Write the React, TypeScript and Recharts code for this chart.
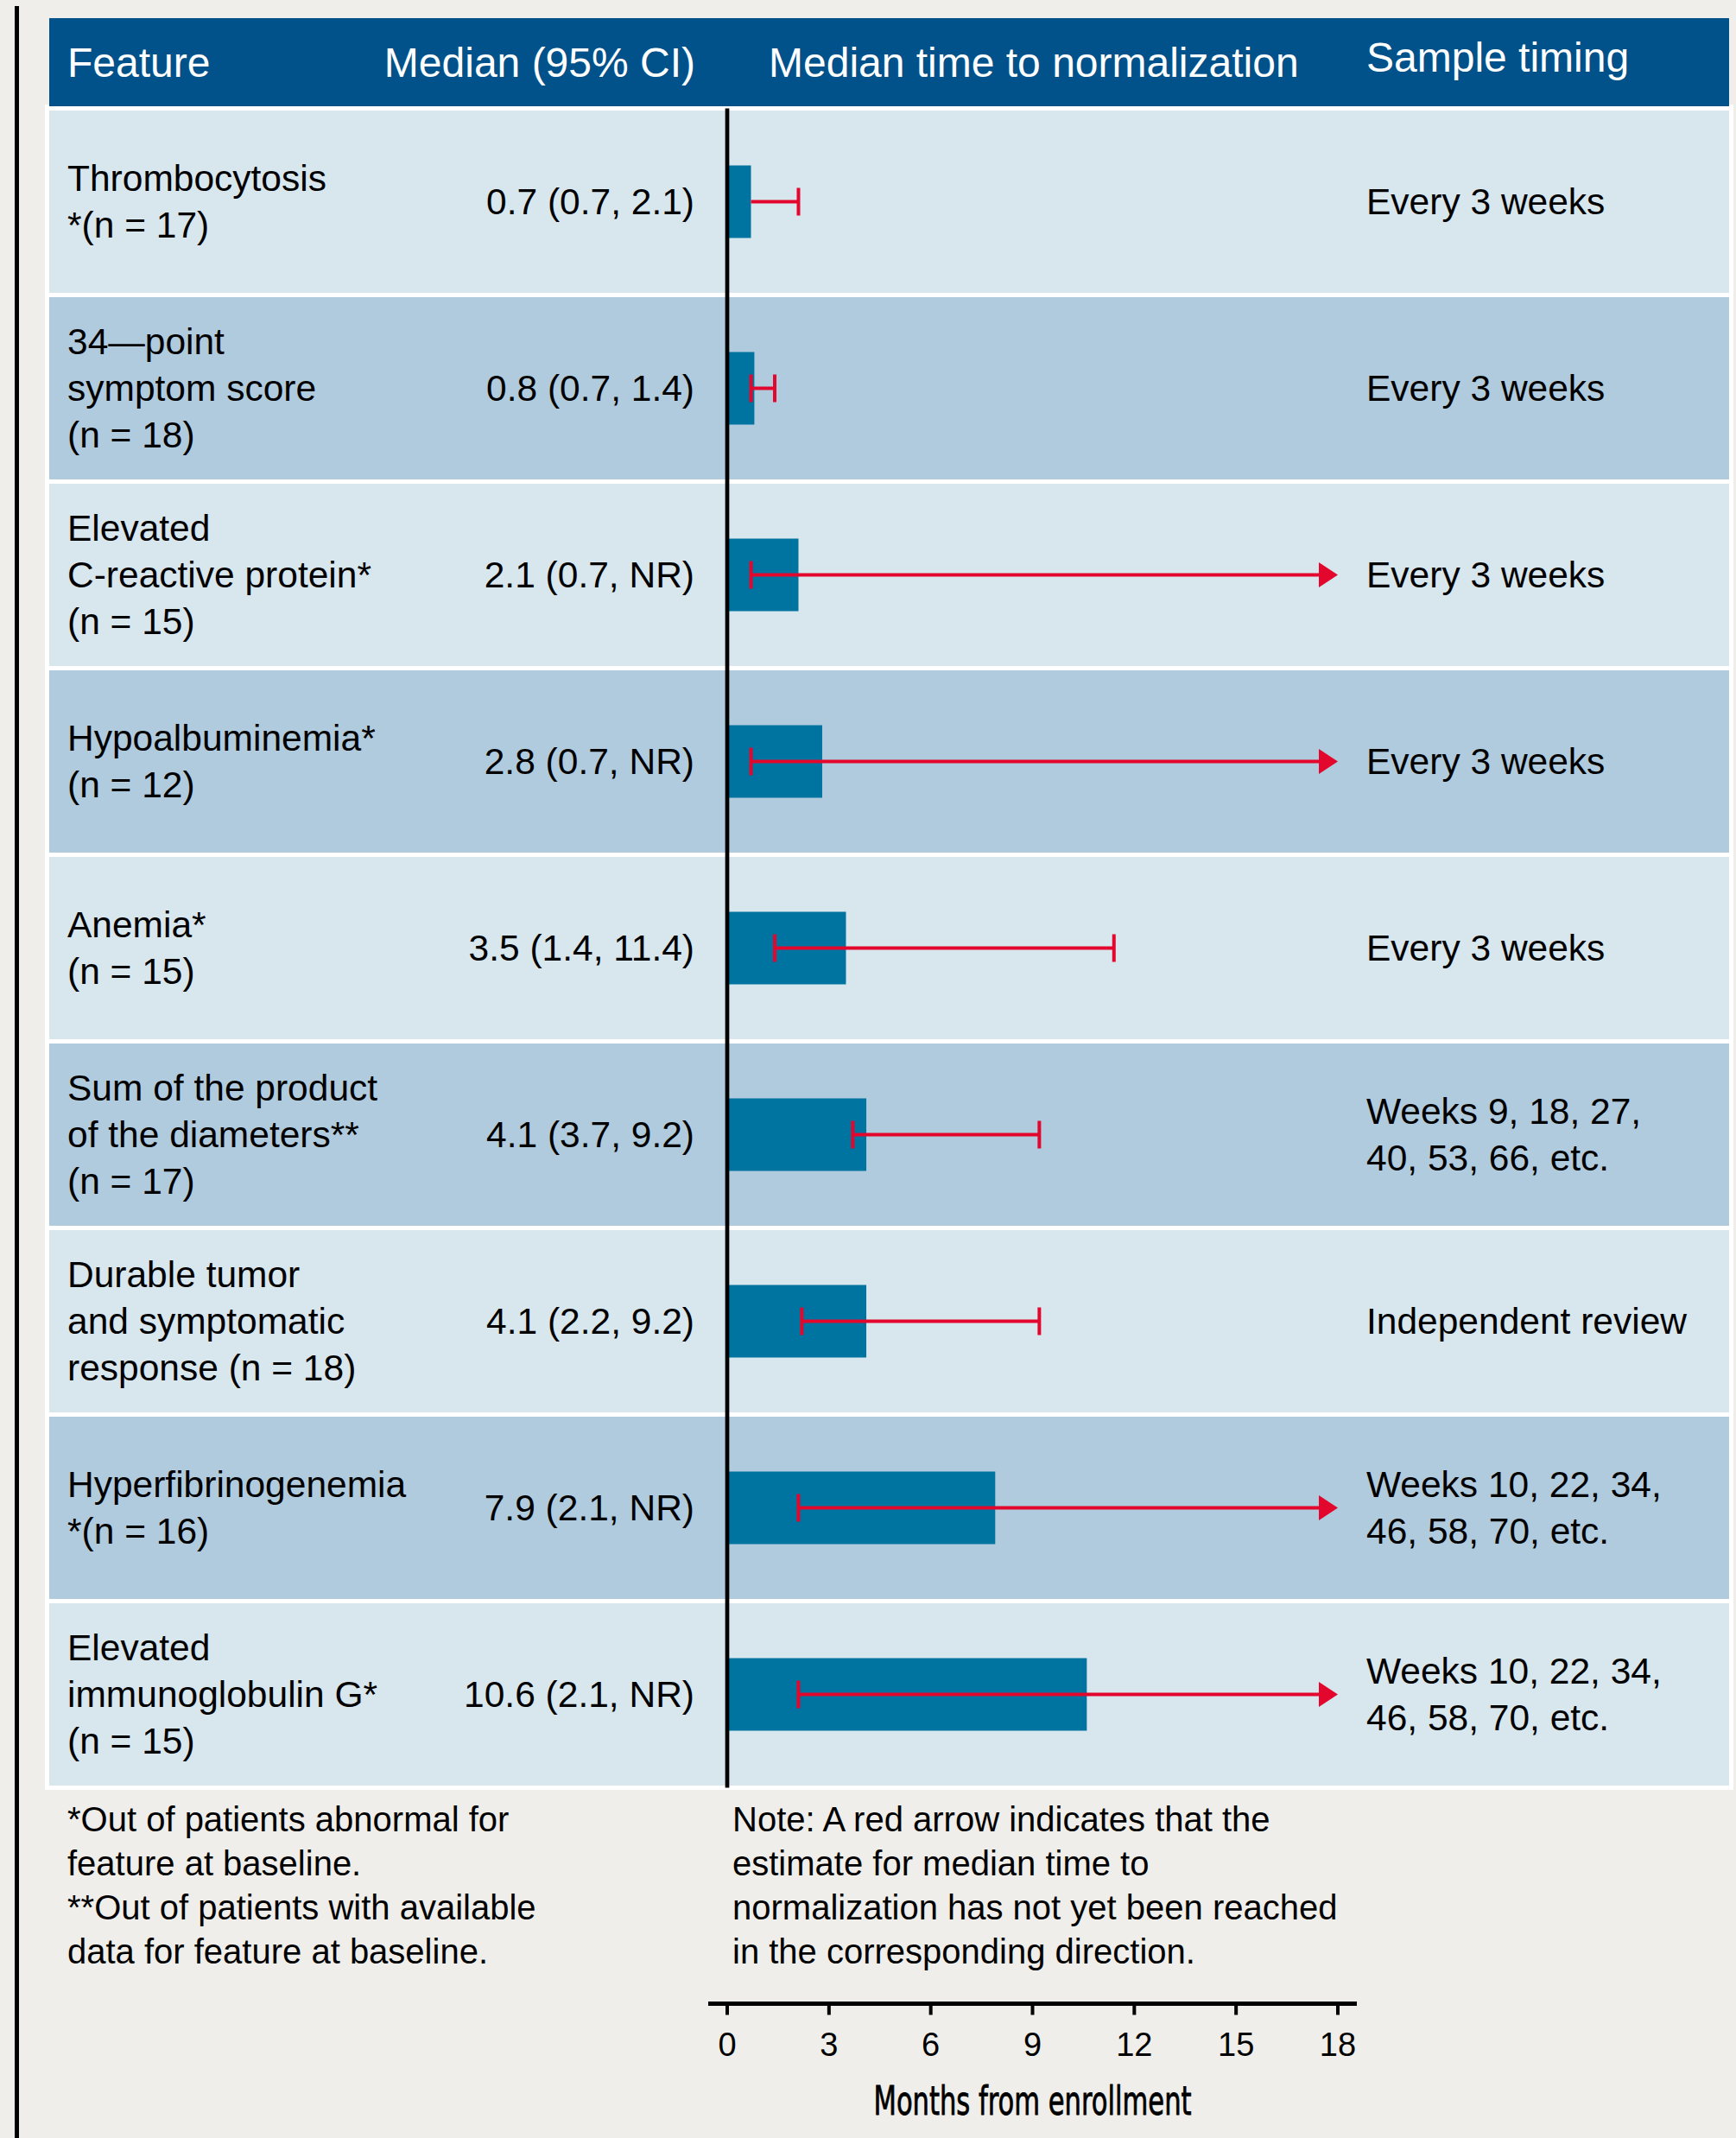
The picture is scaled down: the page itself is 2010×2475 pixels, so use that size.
import React from 'react';
import { ComposedChart, Bar, XAxis, YAxis, ReferenceLine, Label } from 'recharts';

// ---- data ----
const featureLabels: string[][] = [
  ['Thrombocytosis', '*(n = 17)'],
  ['34—point', 'symptom score', '(n = 18)'],
  ['Elevated', 'C-reactive protein*', '(n = 15)'],
  ['Hypoalbuminemia*', '(n = 12)'],
  ['Anemia*', '(n = 15)'],
  ['Sum of the product', 'of the diameters**', '(n = 17)'],
  ['Durable tumor', 'and symptomatic', 'response (n = 18)'],
  ['Hyperfibrinogenemia', '*(n = 16)'],
  ['Elevated', 'immunoglobulin G*', '(n = 15)'],
];

// median months to normalization
const medians = [0.7, 0.8, 2.1, 2.8, 3.5, 4.1, 4.1, 7.9, 10.6];
// 95% CI bounds; null upper bound = not reached (NR)
const ciLower = [0.7, 0.7, 0.7, 0.7, 1.4, 3.7, 2.2, 2.1, 2.1];
const ciUpper: (number | null)[] = [2.1, 1.4, null, null, 11.4, 9.2, 9.2, null, null];

const sampleTiming: string[][] = [
  ['Every 3 weeks'],
  ['Every 3 weeks'],
  ['Every 3 weeks'],
  ['Every 3 weeks'],
  ['Every 3 weeks'],
  ['Weeks 9, 18, 27,', '40, 53, 66, etc.'],
  ['Independent review'],
  ['Weeks 10, 22, 34,', '46, 58, 70, etc.'],
  ['Weeks 10, 22, 34,', '46, 58, 70, etc.'],
];

const monthTicks = [0, 3, 6, 9, 12, 15, 18];
const MONTH_MAX = 18;

const footnoteLeft = [
  '*Out of patients abnormal for',
  'feature at baseline.',
  '**Out of patients with available',
  'data for feature at baseline.',
];
const footnoteRight = [
  'Note: A red arrow indicates that the',
  'estimate for median time to',
  'normalization has not yet been reached',
  'in the corresponding direction.',
];

// ---- styles ----
const FONT = '"Liberation Sans", Arial, Helvetica, sans-serif';
const PAPER = '#efeeea';
const HEADER_BLUE = '#01518a';
const ROW_LIGHT = '#d8e6ee';
const ROW_DARK = '#b0cbdd';
const BAR_BLUE = '#0074a1';
const CI_RED = '#e3062d';

const W = 2010;
const H = 2475;
const TABLE_X0 = 54.5;
const TABLE_X1 = 2004.5;
const PLOT_TOP = 125.5;
const ROW_BAND = 216;
const LINE_PITCH = 54;

const fmt = (v: number) => v.toFixed(1);

const rows = featureLabels.map((lines, i) => ({
  feature: lines.join(' '),
  lines,
  median: medians[i],
  low: ciLower[i],
  high: ciUpper[i],
  timing: sampleTiming[i],
  label: `${fmt(medians[i])} (${fmt(ciLower[i])}, ${ciUpper[i] == null ? 'NR' : fmt(ciUpper[i] as number)})`,
}));

const ciRange = (d: any) => [d.low, d.high == null ? MONTH_MAX : d.high];

// text columns of one table row, centred on the category band
const RowTick = (props: any) => {
  const { y, payload } = props;
  const row = rows.find((r) => r.feature === payload.value);
  if (!row) return null;
  const lineY = (i: number, n: number) => y + (i - (n - 1) / 2) * LINE_PITCH + 14;
  return (
    <g>
      <text fontFamily={FONT} fontSize={42.5} fill="#000">
        {row.lines.map((t, i) => (
          <tspan key={i} x={78} y={lineY(i, row.lines.length)}>
            {t}
          </tspan>
        ))}
      </text>
      <text fontFamily={FONT} fontSize={42.5} fill="#000" x={804} y={lineY(0, 1)} textAnchor="end">
        {row.label}
      </text>
      <text fontFamily={FONT} fontSize={42.5} fill="#000">
        {row.timing.map((t, i) => (
          <tspan key={i} x={1582} y={lineY(i, row.timing.length)}>
            {t}
          </tspan>
        ))}
      </text>
    </g>
  );
};

// red CI whisker; open upper bound ends in an arrow at the axis maximum
const CiShape = (props: any) => {
  const { x, y, width, height, payload } = props;
  if (x == null || width == null) return null;
  const cy = y + height / 2;
  const x0 = x;
  const x1 = x + width;
  const open = payload.high == null;
  const capH = 32;
  const arrowL = 22;
  const arrowH = 29;
  return (
    <g>
      <line x1={x0} y1={cy} x2={open ? x1 - arrowL + 1 : x1} y2={cy} stroke={CI_RED} strokeWidth={4} />
      {payload.low !== payload.median && (
        <line x1={x0} y1={cy - capH / 2} x2={x0} y2={cy + capH / 2} stroke={CI_RED} strokeWidth={4} />
      )}
      {open ? (
        <polygon
          points={`${x1},${cy} ${x1 - arrowL},${cy - arrowH / 2} ${x1 - arrowL},${cy + arrowH / 2}`}
          fill={CI_RED}
        />
      ) : (
        <line x1={x1} y1={cy - capH / 2} x2={x1} y2={cy + capH / 2} stroke={CI_RED} strokeWidth={4} />
      )}
    </g>
  );
};

const AxisTitle = (props: any) => {
  const vb = props.viewBox || {};
  const cx = (vb.x ?? 820) + (vb.width ?? 751) / 2;
  const top = vb.y ?? 2319.5;
  return (
    <text
      x={cx}
      y={top + 128.5}
      textAnchor="middle"
      fontFamily={'"Liberation Sans Narrow", "DejaVu Sans Condensed", ' + FONT}
      fontSize={46}
      textLength={368}
      lengthAdjust="spacingAndGlyphs"
      fill="#000"
      stroke="#000"
      strokeWidth={0.8}
    >
      Months from enrollment
    </text>
  );
};

// header band, alternating row stripes and footnotes behind the chart
const Backdrop = () => (
  <svg width={W} height={H} style={{ position: 'absolute', left: 0, top: 0 }}>
    <rect x={0} y={0} width={W} height={H} fill={PAPER} />
    <rect x={17} y={7} width={5} height={H - 7} fill="#000" />
    <rect x={TABLE_X0 - 2.5} y={121} width={TABLE_X1 - TABLE_X0 + 5} height={1951} fill="#ffffff" />
    <rect x={57} y={21} width={1945} height={102.5} fill={HEADER_BLUE} />
    {rows.map((r, i) => (
      <rect
        key={r.feature}
        x={TABLE_X0}
        y={PLOT_TOP + i * ROW_BAND}
        width={TABLE_X1 - TABLE_X0}
        height={ROW_BAND}
        fill={i % 2 === 0 ? ROW_LIGHT : ROW_DARK}
        stroke="#ffffff"
        strokeWidth={5}
      />
    ))}
    <g fontFamily={FONT} fontSize={48} fill="#ffffff">
      <text x={78} y={89}>Feature</text>
      <text x={805} y={89} textAnchor="end">Median (95% CI)</text>
      <text x={890} y={89}>Median time to normalization</text>
      <text x={1582} y={83}>Sample timing</text>
    </g>
    <g fontFamily={FONT} fontSize={40} fill="#000">
      {footnoteLeft.map((t, i) => (
        <text key={`l${i}`} x={78} y={2120 + i * 51}>
          {t}
        </text>
      ))}
      {footnoteRight.map((t, i) => (
        <text key={`r${i}`} x={848} y={2120 + i * 51}>
          {t}
        </text>
      ))}
    </g>
  </svg>
);

export default function App() {
  return (
    <div style={{ position: 'absolute', left: 0, top: 0, width: W, height: H, background: PAPER }}>
      <Backdrop />
      <div style={{ position: 'absolute', left: 0, top: 0 }}>
        <ComposedChart
          width={W}
          height={H}
          data={rows}
          layout="vertical"
          margin={{ top: PLOT_TOP, right: 439, bottom: 0, left: 0 }}
          barCategoryGap={0}
        >
          <YAxis
            yAxisId="rows"
            type="category"
            dataKey="feature"
            width={820}
            axisLine={false}
            tickLine={false}
            interval={0}
            tick={(p: any) => <RowTick {...p} />}
          />
          <YAxis yAxisId="ci" type="category" dataKey="feature" hide />
          <XAxis
            xAxisId="gap"
            type="number"
            domain={[0, MONTH_MAX]}
            height={250}
            axisLine={false}
            tickLine={false}
            tick={false}
          />
          <XAxis
            xAxisId="months"
            type="number"
            domain={[0, MONTH_MAX]}
            ticks={monthTicks}
            interval={0}
            allowDataOverflow
            padding={{ left: 22, right: 22 }}
            height={155.5}
            axisLine={{ stroke: '#000', strokeWidth: 5 }}
            tickLine={{ stroke: '#000', strokeWidth: 4 }}
            tickSize={13}
            tickMargin={21}
            tick={{ fill: '#000', fontSize: 38, fontFamily: FONT }}
          >
            <Label content={AxisTitle} />
          </XAxis>
          <Bar
            xAxisId="months"
            yAxisId="rows"
            dataKey="median"
            fill={BAR_BLUE}
            barSize={84}
            isAnimationActive={false}
          />
          <Bar
            xAxisId="months"
            yAxisId="ci"
            dataKey={ciRange}
            barSize={40}
            shape={(p: any) => <CiShape {...p} />}
            isAnimationActive={false}
          />
          <ReferenceLine xAxisId="months" yAxisId="rows" x={0} stroke="#000" strokeWidth={4.7} />
        </ComposedChart>
      </div>
    </div>
  );
}
